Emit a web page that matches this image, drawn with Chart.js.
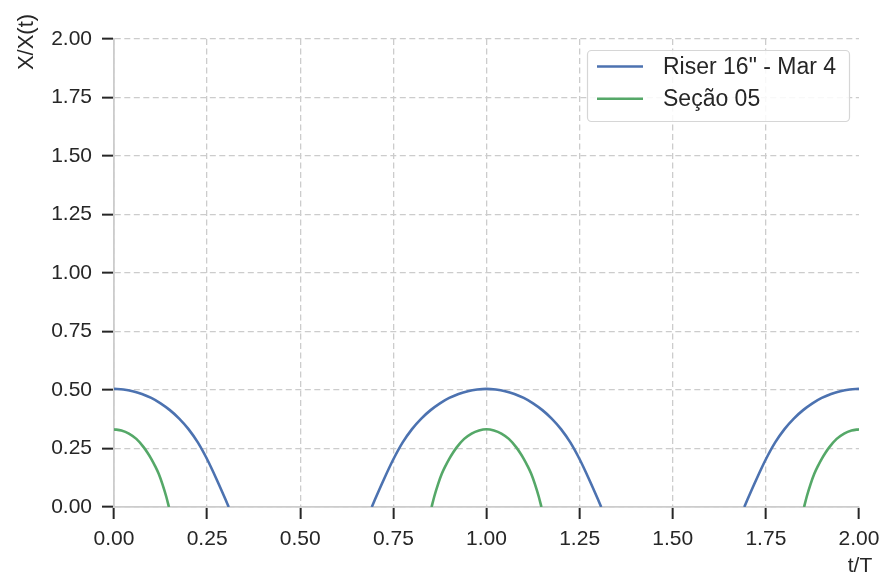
<!DOCTYPE html>
<html>
<head>
<meta charset="utf-8">
<title>X/X(t) vs t/T</title>
<script src="https://cdn.jsdelivr.net/npm/chart.js@4.4.1/dist/chart.umd.min.js"></script>
<style>
  html, body { margin: 0; padding: 0; background: #ffffff; }
  canvas { display: block; }
</style>
</head>
<body>
<canvas id="chart" width="882" height="578"></canvas>
<script>
// Series labels
const seriesNames = ['Riser 16" - Mar 4', 'Seção 05'];

// Riser 16" - Mar 4 : t/T and X/X(t) (null = no response, gap in the line)
const riserT = [
  0, 0.025, 0.05, 0.075, 0.1, 0.125, 0.15, 0.175, 0.2, 0.225, 0.25, 0.275, 0.3, 0.308,
  0.5,
  0.692, 0.7, 0.725, 0.75, 0.775, 0.8, 0.825, 0.85, 0.875, 0.9, 0.925, 0.95, 0.975,
  1.0, 1.025, 1.05, 1.075, 1.1, 1.125, 1.15, 1.175, 1.2, 1.225, 1.25, 1.275, 1.3, 1.308,
  1.5,
  1.692, 1.7, 1.725, 1.75, 1.775, 1.8, 1.825, 1.85, 1.875, 1.9, 1.925, 1.95, 1.975, 2.0
];
const riserY = [
  0.505, 0.502, 0.495, 0.483, 0.466, 0.443, 0.414, 0.378, 0.333, 0.276, 0.204, 0.120, 0.030, 0,
  null,
  0, 0.030, 0.120, 0.204, 0.276, 0.333, 0.378, 0.414, 0.443, 0.466, 0.483, 0.495, 0.502,
  0.505, 0.502, 0.495, 0.483, 0.466, 0.443, 0.414, 0.378, 0.333, 0.276, 0.204, 0.120, 0.030, 0,
  null,
  0, 0.030, 0.120, 0.204, 0.276, 0.333, 0.378, 0.414, 0.443, 0.466, 0.483, 0.495, 0.502, 0.505
];

// Seção 05 : t/T and X/X(t)
const secaoT = [
  0, 0.02, 0.04, 0.06, 0.08, 0.09, 0.1, 0.11, 0.12, 0.13, 0.14, 0.1475,
  0.5,
  0.8525, 0.86, 0.87, 0.88, 0.89, 0.9, 0.91, 0.92, 0.94, 0.96, 0.98,
  1.0, 1.02, 1.04, 1.06, 1.08, 1.09, 1.1, 1.11, 1.12, 1.13, 1.14, 1.1475,
  1.5,
  1.8525, 1.86, 1.87, 1.88, 1.89, 1.9, 1.91, 1.92, 1.94, 1.96, 1.98, 2.0
];
const secaoY = [
  0.332, 0.327, 0.314, 0.291, 0.255, 0.232, 0.206, 0.176, 0.142, 0.098, 0.046, 0,
  null,
  0, 0.046, 0.098, 0.142, 0.176, 0.206, 0.232, 0.255, 0.291, 0.314, 0.327,
  0.332, 0.327, 0.314, 0.291, 0.255, 0.232, 0.206, 0.176, 0.142, 0.098, 0.046, 0,
  null,
  0, 0.046, 0.098, 0.142, 0.176, 0.206, 0.232, 0.255, 0.291, 0.314, 0.327, 0.332
];

// Tick positions on both axes
const xTicks = [0, 0.25, 0.5, 0.75, 1.0, 1.25, 1.5, 1.75, 2.0];
const yTicks = [0, 0.25, 0.5, 0.75, 1.0, 1.25, 1.5, 1.75, 2.0];
const axisTitles = { x: 't/T', y: 'X/X(t)' };

const FONT = "'Liberation Sans', Arial, sans-serif";
const TEXT = '#262626';
const GRID = '#cccccc';
const COLORS = ['#4c72b0', '#55a868'];

const toPoints = (ts, ys) => ts.map((t, i) => ({ x: t, y: ys[i] }));

// Axis titles: ylabel centred on the top of the plot, xlabel centred on its right end
const axisTitlePlugin = {
  id: 'axisTitles',
  afterDraw(chart) {
    const { ctx, chartArea } = chart;
    ctx.save();
    ctx.fillStyle = TEXT;
    ctx.textAlign = 'center';
    ctx.textBaseline = 'middle';
    ctx.font = '21px ' + FONT;
    ctx.fillText(axisTitles.x, chartArea.right + 1, 566);
    ctx.font = '22px ' + FONT;
    ctx.translate(27, chartArea.top + 3);
    ctx.rotate(-Math.PI / 2);
    ctx.fillText(axisTitles.y, 0, 0);
    ctx.restore();
  }
};

// Framed legend in the upper right corner of the plot
const boxLegendPlugin = {
  id: 'boxLegend',
  afterDatasetsDraw(chart) {
    const { ctx, chartArea } = chart;
    const sets = chart.data.datasets;
    const w = 262, h = 71, rowH = 32.3;
    const x0 = chartArea.right - 10 - w;
    const y0 = chartArea.top + 11;
    ctx.save();
    ctx.beginPath();
    if (ctx.roundRect) ctx.roundRect(x0 + 0.5, y0 + 0.5, w, h, 4);
    else ctx.rect(x0 + 0.5, y0 + 0.5, w, h);
    ctx.fillStyle = 'rgba(255,255,255,0.85)';
    ctx.fill();
    ctx.strokeStyle = '#d6d6d6';
    ctx.lineWidth = 1.2;
    ctx.stroke();
    ctx.font = '23px ' + FONT;
    ctx.textBaseline = 'middle';
    ctx.textAlign = 'left';
    sets.forEach((ds, i) => {
      const cy = y0 + 16.5 + i * rowH;
      ctx.strokeStyle = ds.borderColor;
      ctx.lineWidth = ds.borderWidth;
      ctx.beginPath();
      ctx.moveTo(x0 + 10, cy);
      ctx.lineTo(x0 + 56, cy);
      ctx.stroke();
      ctx.fillStyle = TEXT;
      ctx.fillText(ds.label, x0 + 76, cy + 1);
    });
    ctx.restore();
  }
};

new Chart(document.getElementById('chart'), {
  type: 'line',
  data: {
    datasets: [
      {
        label: seriesNames[0],
        data: toPoints(riserT, riserY),
        borderColor: COLORS[0],
        borderWidth: 2.6,
        pointRadius: 0,
        cubicInterpolationMode: 'monotone',
        spanGaps: false,
        fill: false
      },
      {
        label: seriesNames[1],
        data: toPoints(secaoT, secaoY),
        borderColor: COLORS[1],
        borderWidth: 2.6,
        pointRadius: 0,
        cubicInterpolationMode: 'monotone',
        spanGaps: false,
        fill: false
      }
    ]
  },
  options: {
    responsive: false,
    animation: false,
    layout: { padding: { top: 39, right: 23, bottom: 0, left: 0 } },
    plugins: {
      legend: { display: false },
      tooltip: { enabled: false }
    },
    scales: {
      x: {
        type: 'linear',
        min: 0,
        max: 2,
        afterBuildTicks: (scale) => { scale.ticks = xTicks.map(v => ({ value: v })); },
        afterFit: (scale) => {
          scale.height = 71;
          scale.paddingLeft = 0;
          scale.paddingRight = 0;
        },
        ticks: {
          color: TEXT,
          font: { family: FONT, size: 21 },
          padding: 8,
          maxRotation: 0,
          callback: (v) => Number(v).toFixed(2)
        },
        grid: {
          color: (c) => (c.tick && c.tick.value === 2 ? 'rgba(0,0,0,0)' : GRID),
          lineWidth: 1.3,
          tickColor: TEXT,
          tickWidth: 2,
          tickLength: 12,
          drawTicks: true
        },
        border: { display: true, color: GRID, width: 1.8, dash: [6, 3.5] }
      },
      y: {
        type: 'linear',
        min: 0,
        max: 2,
        afterBuildTicks: (scale) => { scale.ticks = yTicks.map(v => ({ value: v })); },
        afterFit: (scale) => { scale.width = 114; },
        ticks: {
          color: TEXT,
          font: { family: FONT, size: 21 },
          padding: 10,
          callback: (v) => Number(v).toFixed(2)
        },
        grid: {
          color: GRID,
          lineWidth: 1.3,
          tickColor: TEXT,
          tickWidth: 2,
          tickLength: 12,
          drawTicks: true
        },
        border: { display: true, color: GRID, width: 1.8, dash: [6, 3.5] }
      }
    }
  },
  plugins: [axisTitlePlugin, boxLegendPlugin]
});
</script>
</body>
</html>
